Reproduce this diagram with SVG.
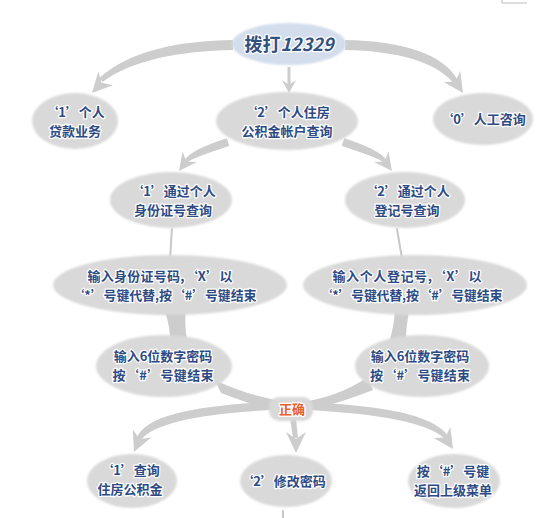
<svg xmlns="http://www.w3.org/2000/svg" width="553" height="518" viewBox="0 0 553 518">
<defs>
<style>
.node{fill:#d9d9d9;filter:url(#soft)}
.top{fill:#d3ddec;filter:url(#soft)}
.t{font-family:"Noto Sans CJK SC","Noto Sans",sans-serif;font-weight:700;font-size:13px;fill:#2d4a84;stroke:#ffffff;stroke-width:2.5px;stroke-linejoin:round;paint-order:stroke;text-anchor:middle}
.ok{fill:#e5602c;font-size:13px}
.big{font-size:18px;fill:#34507c}
.conn path,.conn polygon{fill:#cdcdcd}
.thin{fill:none;stroke:#c8c8c8;stroke-width:2;stroke-linecap:round}
</style>
<filter id="soft" x="-10%" y="-20%" width="120%" height="140%"><feGaussianBlur stdDeviation="0.8"/></filter>
</defs>
<rect width="553" height="518" fill="#ffffff"/>
<path d="M502,0 L502,3 L527,3" fill="none" stroke="#bdbdbd" stroke-width="1"/>

<g id="connectors" class="conn">
  <path d="M233,40 C180,41 130,50 99.4,78.1 L102.6,81.9 C132,60 180,51 233,50 Z"/>
  <polygon points="92,93 112.9,85.2 101.5,82.8 98.3,71.6"/>
  <path d="M345,40 C402,41 444,54 458.1,80.6 L453.9,83.4 C436,62 398,51 345,50 Z"/>
  <polygon points="463,93 460.3,70.9 455.3,81.4 443.7,81.9"/>
  <path d="M287.5,67 L290.5,67 L290.5,86 L287.5,86 Z"/>
  <polygon points="289,93 296,80 289,85 282,80"/>
  <path d="M226.7,138.2 C204,146 189,152 182.8,162.1 L185.2,163.9 C192,158 206,154 229.3,145.8 Z"/>
  <polygon points="179,171 197,162 186.2,161.4 182.6,151.2"/>
  <path d="M344.3,138.2 C367,146 382,152 388.2,162.1 L385.8,163.9 C379,158 365,154 341.7,145.8 Z"/>
  <polygon points="392,171 374,162 384.8,161.4 388.4,151.2"/>
  <path class="thin" d="M172,229 C171,240 171,248 170,258"/>
  <path class="thin" d="M397,229 C399,240 400,248 402,258"/>
  <path d="M163,305 C167,318 170,326 170,340 L187,340 C185,326 185,318 186,305 Z"/>
  <path d="M394,305 C396,318 392,330 390,340 L406,340 C406,328 408,318 410,305 Z"/>
  <path d="M215,380 C240,392 258,396 275,400 L275,411 C255,405 236,399 221,393 Z"/>
  <path d="M368,377 C345,392 325,398 308,401 L308,411 C330,405 350,399 373,390 Z"/>
  <path d="M270,402 C198,406 146,414 136.2,439 L139.8,441 C154,422 202,414 270,410 Z"/>
  <polygon points="134,452 151.2,437.6 139.6,439.1 132.8,429.6"/>
  <path d="M290,418 L296,418 L298,438 L293,438 Z"/>
  <polygon points="296,453 306,432 296,439 286,432"/>
  <path d="M308,402 C382,406 434,414 448.5,436.7 L445.5,439.3 C428,422 378,414 308,410 Z"/>
  <polygon points="453,449 450.3,426.9 445.3,437.4 433.7,437.9"/>
  <path class="thin" d="M283,511 L283,518" stroke-width="1.5"/>
</g>

<g id="n_dial">
  <ellipse class="top" cx="289" cy="44" rx="57" ry="21"/>
  <text class="t big" x="289" y="51">拨打<tspan font-style="italic">12329</tspan></text>
</g>
<g id="n_loan">
  <ellipse class="node" cx="75" cy="121" rx="43" ry="28"/>
  <text class="t" x="75" y="117">‘1’个人</text>
  <text class="t" x="75" y="136">贷款业务</text>
</g>
<g id="n_fund">
  <ellipse class="node" cx="287" cy="121" rx="71" ry="29"/>
  <text class="t" x="287" y="117">‘2’个人住房</text>
  <text class="t" x="287" y="136">公积金帐户查询</text>
</g>
<g id="n_manual">
  <ellipse class="node" cx="483" cy="119" rx="50" ry="26"/>
  <text class="t" x="483" y="124">‘0’人工咨询</text>
</g>
<g id="n_id">
  <ellipse class="node" cx="171" cy="200" rx="61" ry="28"/>
  <text class="t" x="173" y="196">‘1’通过个人</text>
  <text class="t" x="173" y="215">身份证号查询</text>
</g>
<g id="n_reg">
  <ellipse class="node" cx="405" cy="200" rx="60" ry="28"/>
  <text class="t" x="407" y="196">‘2’通过个人</text>
  <text class="t" x="407" y="215">登记号查询</text>
</g>
<g id="n_id_input">
  <ellipse class="node" cx="170" cy="285" rx="117" ry="30"/>
  <text class="t" x="160" y="281" textLength="145" lengthAdjust="spacing">输入身份证号码,‘X’以</text>
  <text class="t" x="164" y="300" textLength="185" lengthAdjust="spacing">‘*’号键代替,按‘#’号键结束</text>
</g>
<g id="n_reg_input">
  <ellipse class="node" cx="415" cy="285" rx="112" ry="30"/>
  <text class="t" x="407" y="281" textLength="149" lengthAdjust="spacing">输入个人登记号,‘X’以</text>
  <text class="t" x="411" y="300" textLength="183" lengthAdjust="spacing">‘*’号键代替,按‘#’号键结束</text>
</g>
<g id="n_pwd_left">
  <ellipse class="node" cx="164" cy="366" rx="68" ry="31"/>
  <text class="t" x="163" y="361">输入6位数字密码</text>
  <text class="t" x="163" y="380" textLength="101" lengthAdjust="spacing">按‘#’号键结束</text>
</g>
<g id="n_pwd_right">
  <ellipse class="node" cx="422" cy="366" rx="67" ry="31"/>
  <text class="t" x="420" y="361">输入6位数字密码</text>
  <text class="t" x="420" y="380" textLength="100" lengthAdjust="spacing">按‘#’号键结束</text>
</g>
<g id="n_ok">
  <rect class="node" x="269" y="397" width="44" height="24" rx="10"/>
  <text class="t ok" x="292" y="414">正确</text>
</g>
<g id="n_query">
  <ellipse class="node" cx="132" cy="481" rx="45" ry="27"/>
  <text class="t" x="130" y="475">‘1’查询</text>
  <text class="t" x="130" y="494">住房公积金</text>
</g>
<g id="n_change">
  <ellipse class="node" cx="286" cy="481" rx="46" ry="26"/>
  <text class="t" x="283" y="486">‘2’修改密码</text>
</g>
<g id="n_back">
  <ellipse class="node" cx="454" cy="481" rx="46" ry="27"/>
  <text class="t" x="453" y="476">按‘#’号键</text>
  <text class="t" x="453" y="495">返回上级菜单</text>
</g>
</svg>
